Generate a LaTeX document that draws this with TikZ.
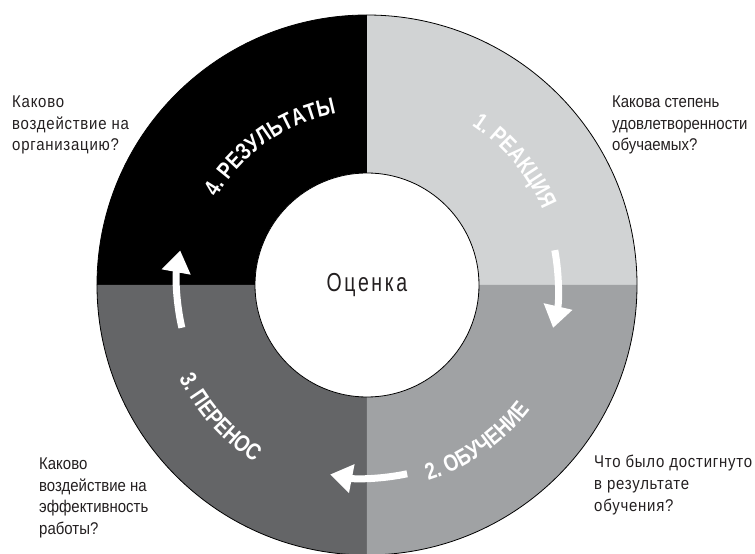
\documentclass[tikz,border=0pt]{standalone}
\usepackage{fontspec}
\setmainfont{Liberation Sans}[FakeStretch=0.88]
\newfontfamily\spacedfam{Liberation Sans}[FakeStretch=0.88,LetterSpace=4.5]
\newfontfamily\ringfam{Liberation Sans}[FakeStretch=0.8]
\newfontfamily\centerfam{Liberation Sans}[FakeStretch=0.75,LetterSpace=10]
\usetikzlibrary{arrows.meta,decorations.text}
\definecolor{qlight}{HTML}{D1D3D4}
\definecolor{qmid}{HTML}{A0A2A4}
\definecolor{qdark}{HTML}{646567}
\definecolor{qblack}{HTML}{000000}
\definecolor{txt}{HTML}{231F20}
\newcommand\ringfont{\ringfam\bfseries\fontsize{23.5}{23.5}\selectfont}
\tikzset{
  sidetext/.style={anchor=base west, align=left, inner sep=0pt, text=txt,
    font=\fontsize{17}{21.6}\selectfont},
  spacedtext/.style={sidetext, font=\spacedfam\fontsize{17}{21.6}\selectfont},
  cyclearrow/.style={white, line width=7pt, -{Triangle[length=22pt,width=28pt]}},
  ringlabel/.style={decorate, decoration={text along path, text align=center, text color=white}}
}
\begin{document}
\begin{tikzpicture}[x=1pt,y=1pt]
\useasboundingbox (-367,-269) rectangle (388,285);
% quadrants
\fill[qlight] (0:112) -- (0:270) arc[start angle=0,end angle=90,radius=270] -- (90:112) arc[start angle=90,end angle=0,radius=112] -- cycle;
\fill[qblack] (90:112) -- (90:270) arc[start angle=90,end angle=180,radius=270] -- (180:112) arc[start angle=180,end angle=90,radius=112] -- cycle;
\fill[qdark] (180:112) -- (180:270) arc[start angle=180,end angle=270,radius=270] -- (270:112) arc[start angle=270,end angle=180,radius=112] -- cycle;
\fill[qmid] (270:112) -- (270:270) arc[start angle=270,end angle=360,radius=270] -- (0:112) arc[start angle=360,end angle=270,radius=112] -- cycle;
\draw[line width=0.8pt] (0,0) circle[radius=270];
\draw[line width=0.8pt, fill=white] (0,0) circle[radius=112];
% centre
\node (c) at (0,0) {\centerfam\fontsize{26}{26}\selectfont\color{txt}Оценка};
% ring labels
\path[ringlabel, decoration={text={|\ringfont|1. РЕАКЦИЯ}}] (80:191) arc[start angle=80,end angle=0,radius=191];
\path[ringlabel, decoration={text={|\ringfont|2. ОБУЧЕНИЕ}}] (-95:205) arc[start angle=-95,end angle=-15,radius=205];
\path[ringlabel, decoration={text={|\ringfont|3. ПЕРЕНОС}}] (-178:210) arc[start angle=-178,end angle=-98,radius=210];
\path[ringlabel, decoration={text={|\ringfont|4. РЕЗУЛЬТАТЫ}}] (175:174) arc[start angle=175,end angle=75,radius=174];
% arrows
\coordinate (a1s) at (10.5:191);
\coordinate (a2s) at (-78:193);
\coordinate (a3s) at (193:190);
\draw[cyclearrow] (a1s) arc[start angle=10.5,end angle=-13,radius=191];
\draw[cyclearrow] (a2s) arc[start angle=-78,end angle=-101,radius=193];
\draw[cyclearrow] (a3s) arc[start angle=193,end angle=169.5,radius=190];
% side questions (anchored at the baseline of the last line)
\node[spacedtext] (q4) at (-355,134) {Каково\\воздействие на\\организацию?};
\node[sidetext] (q1) at (245,134) {Какова степень\\удовлетворенности\\обучаемых?};
\node[sidetext] (q3) at (-328,-249.5) {Каково\\воздействие на\\эффективность\\работы?};
\node[spacedtext] (q2) at (227,-226) {Что было достигнуто\\в результате\\обучения?};
\end{tikzpicture}
\end{document}
